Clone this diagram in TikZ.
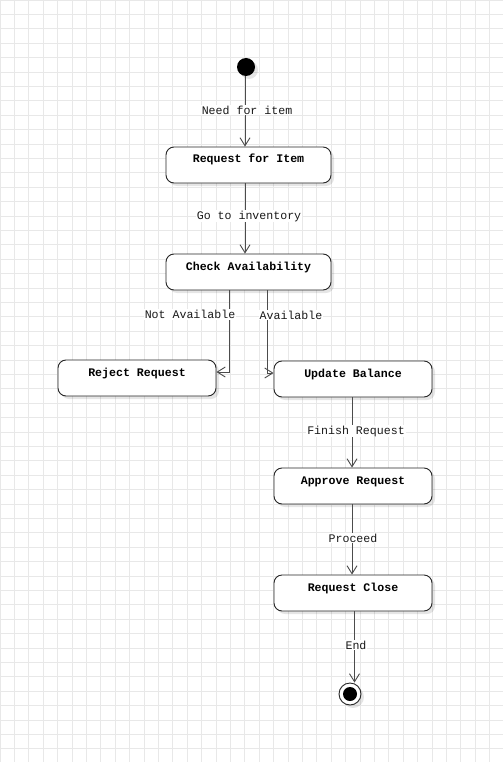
\documentclass[tikz,border=0pt]{standalone}
\usepackage{fontspec}
\setmonofont{Liberation Mono}
\usetikzlibrary{arrows.meta,shadows}
\begin{document}
\begin{tikzpicture}[x=1pt,y=-1pt,
  gridline/.style={draw=black!9, line width=0.9pt},
  shade3/.style={drop shadow={shadow xshift=3pt, shadow yshift=-3pt, fill=black, opacity=0.1}},
  statebox/.style={draw=black!85, fill=white, rounded corners=8pt, line width=0.9pt,
    minimum width=165pt, minimum height=36pt, inner xsep=2pt, inner ysep=2pt,
    text height=14pt, text depth=18pt, shade3,
    font=\ttfamily\bfseries\fontsize{11.6}{13}\selectfont},
  widebox/.style={statebox, minimum width=158pt},
  edge/.style={draw=black!70, line width=0.9pt, -{Straight Barb[length=8pt,width=10pt]}},
  lbl/.style={fill=white, inner sep=1pt, text=black!90, font=\ttfamily\fontsize{11.6}{13}\selectfont}
]
\useasboundingbox (0,0) rectangle (503,762);
\fill[white] (0,0) rectangle (503,762);
\foreach \i in {0,...,34} \draw[gridline] (\i*14.4,0) -- (\i*14.4,762);
\foreach \j in {0,...,52} \draw[gridline] (0,\j*14.4) -- (503,\j*14.4);

\node[circle, fill=black, minimum size=18pt, inner sep=0pt, shade3] (init) at (246,67) {};
\node[statebox] (req) at (248.5,165) {Request for Item};
\node[statebox] (check) at (248.5,272) {Check Availability};
\node[widebox] (reject) at (137,378) {Reject Request};
\node[widebox] (update) at (353,379) {Update Balance};
\node[widebox] (approve) at (353,486) {Approve Request};
\node[widebox] (close) at (353,593) {Request Close};
\node[circle, draw=black!85, fill=white, line width=0.9pt, minimum size=22pt, inner sep=0pt, shade3] (final) at (350,694) {};
\node[circle, fill=black, minimum size=14pt, inner sep=0pt] (finalin) at (final.center) {};

\draw[edge] ([xshift=-1pt]init.south) -- ([xshift=-1pt]init.south |- req.north)
  node[lbl, midway, xshift=2pt, yshift=1.5pt] {Need for item};
\draw[edge] ([xshift=-3.5pt]req.south) -- ([xshift=-3.5pt]check.north)
  node[lbl, midway, xshift=4pt, yshift=2.5pt] {Go to inventory};
\draw[edge] ([xshift=-19.5pt]check.south) |- ([yshift=6pt]reject.east)
  node[lbl, pos=0.146, xshift=-39pt] {Not Available};
\draw[edge] ([xshift=18.5pt]check.south) |- ([yshift=6pt]update.west)
  node[lbl, pos=0.15, xshift=24pt] {Available};
\draw[edge] ([xshift=-1pt]update.south) -- ([xshift=-1pt]approve.north)
  node[lbl, midway, xshift=4pt, yshift=1.5pt] {Finish Request};
\draw[edge] ([xshift=-1pt]approve.south) -- ([xshift=-1pt]approve.south |- close.north)
  node[lbl, midway, xshift=1pt, yshift=1.5pt] {Proceed};
\draw[edge] ([xshift=1.5pt]close.south) -- ([xshift=1.5pt]close.south |- final.north)
  node[lbl, midway, xshift=1.5pt, yshift=2pt] {End};
\end{tikzpicture}
\end{document}
